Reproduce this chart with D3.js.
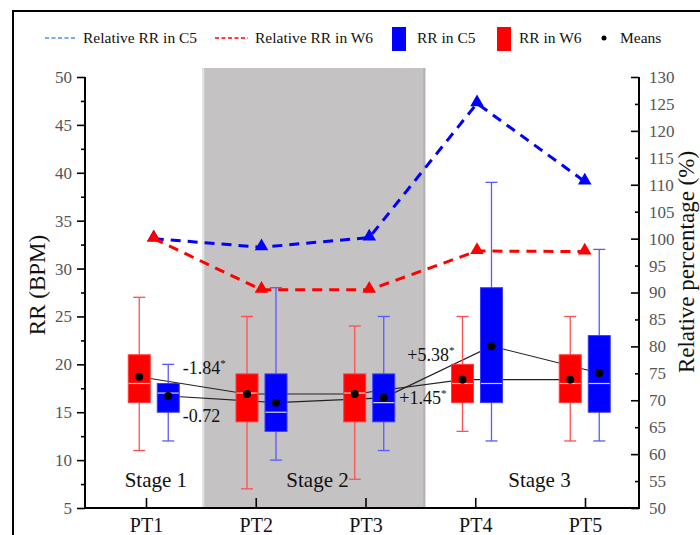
<!DOCTYPE html>
<html><head><meta charset="utf-8">
<script src="https://cdn.jsdelivr.net/npm/d3@7"></script>
<style>body{margin:0;background:#fff}svg{display:block}</style>
</head><body>
<svg id="chart" width="700" height="535"></svg>
<script>
// ---- data ----
const categories = ["PT1", "PT2", "PT3", "PT4", "PT5"];
const w6Min    = [11, 7, 8, 13, 12];
const w6Q1     = [16, 14, 14, 16, 16];
const w6Median = [18, 17, 17, 18, 18];
const w6Q3     = [21, 19, 19, 20, 21];
const w6Max    = [27, 25, 24, 25, 25];
const w6Mean   = [18.7, 16.9, 16.9, 18.4, 18.4];
const c5Min    = [12, 10, 11, 12, 12];
const c5Q1     = [15, 13, 14, 16, 15];
const c5Median = [17, 15, 16, 18, 18];
const c5Q3     = [18, 19, 19, 28, 23];
const c5Max    = [20, 28, 25, 39, 32];
const c5Mean   = [16.7, 16.0, 16.5, 21.9, 19.1];
const relC5    = [100, 98.4, 100.2, 125.1, 110.6];
const relW6    = [100, 90.5, 90.5, 97.7, 97.6];
const leftTicks  = [5, 10, 15, 20, 25, 30, 35, 40, 45, 50];
const leftMinor  = [7.5, 12.5, 17.5, 22.5, 27.5, 32.5, 37.5, 42.5, 47.5];
const rightTicks = [50, 55, 60, 65, 70, 75, 80, 85, 90, 95, 100, 105, 110, 115, 120, 125, 130];
const stages = ["Stage 1", "Stage 2", "Stage 3"];
const annotations = ["-1.84", "-0.72", "+1.45", "+5.38"];
const annotationStar = [true, false, true, true];

const FONT = "'Liberation Serif','Times New Roman',serif";
const svg = d3.select("#chart");

const yL = d3.scaleLinear().domain([5, 50]).range([508, 77]);
const yR = d3.scaleLinear().domain([50, 130]).range([508, 77]);
const xData = d3.scaleLinear().domain([0, 4]).range([153.75, 584.75]);
const xTick = d3.scalePoint().domain(categories).range([146, 585]);
const X0 = 85, X1 = 639;

// figure frame
svg.append("path").attr("d", "M13,545 V11 H710").attr("fill", "none")
  .attr("stroke", "#000").attr("stroke-width", 2);

// grey stage band
const gx0 = xData(0.45), gx1 = xData(2.52);
svg.append("rect").attr("x", gx0).attr("y", 68).attr("width", gx1 - gx0).attr("height", 508 - 68)
  .attr("fill", "#c4c2c3");
svg.append("rect").attr("x", gx0).attr("y", 68).attr("width", 2).attr("height", 440).attr("fill", "#e6e6e6");
svg.append("rect").attr("x", gx1 - 2).attr("y", 68).attr("width", 2).attr("height", 440).attr("fill", "#b4b2b3");

// stage labels
const stagePos = [0.02, 1.52, 3.58];
svg.selectAll("text.stage").data(stages).join("text").attr("class", "stage")
  .attr("x", (d, i) => xData(stagePos[i])).attr("y", 487)
  .attr("text-anchor", "middle").attr("font-family", FONT).attr("font-size", 21).attr("fill", "#111")
  .text(d => d);

// mean connecting lines
const lineGen = d3.line().x(d => d[0]).y(d => d[1]);
const w6Pts = w6Mean.map((v, i) => [xData(i) - 14.5, yL(v)]);
const c5Pts = c5Mean.map((v, i) => [xData(i) + 14.5, yL(v)]);
[w6Pts, c5Pts].forEach(pts => {
  svg.append("path").attr("d", lineGen(pts)).attr("fill", "none")
    .attr("stroke", "#222").attr("stroke-width", 1.1);
});

// boxes
const series = [
  {fill: "#ff0000", stroke: "#ff3b3b", whisk: "#ff5050", off: -14.5, min: w6Min, q1: w6Q1, med: w6Median, q3: w6Q3, max: w6Max},
  {fill: "#0000ff", stroke: "#3b3bff", whisk: "#5a5aff", off: 14.5, min: c5Min, q1: c5Q1, med: c5Median, q3: c5Q3, max: c5Max}
];
const BW = 22, CAP = 12;
series.forEach(s => {
  const g = svg.append("g");
  categories.forEach((c, i) => {
    const cx = xData(i) + s.off;
    g.append("line").attr("x1", cx).attr("x2", cx).attr("y1", yL(s.min[i])).attr("y2", yL(s.max[i]))
      .attr("stroke", s.whisk).attr("stroke-width", 1.3);
    [s.min[i], s.max[i]].forEach(v => {
      g.append("line").attr("x1", cx - CAP / 2).attr("x2", cx + CAP / 2).attr("y1", yL(v)).attr("y2", yL(v))
        .attr("stroke", s.whisk).attr("stroke-width", 1.3);
    });
    g.append("rect").attr("x", cx - BW / 2).attr("y", yL(s.q3[i])).attr("width", BW)
      .attr("height", yL(s.q1[i]) - yL(s.q3[i])).attr("fill", s.fill).attr("stroke", s.stroke).attr("stroke-width", 1);
    g.append("line").attr("x1", cx - BW / 2 + 0.5).attr("x2", cx + BW / 2 - 0.5)
      .attr("y1", yL(s.med[i])).attr("y2", yL(s.med[i])).attr("stroke", "#fff").attr("stroke-width", 1.2)
      .attr("opacity", 0.85);
  });
});

// mean dots
[...w6Pts, ...c5Pts].forEach(p => {
  svg.append("circle").attr("cx", p[0]).attr("cy", p[1]).attr("r", 4).attr("fill", "#000");
});

// relative percentage dashed lines
const relSeries = [
  {vals: relC5, color: "#0000ff"},
  {vals: relW6, color: "#ff0000"}
];
const tri = d3.symbol().type(d3.symbolTriangle).size(80);
relSeries.forEach(r => {
  const pts = r.vals.map((v, i) => [xData(i), yR(v)]);
  svg.append("path").attr("d", lineGen(pts)).attr("fill", "none").attr("stroke", r.color)
    .attr("stroke-width", 3).attr("stroke-dasharray", "10,7");
  pts.forEach(p => {
    svg.append("path").attr("d", tri()).attr("transform", `translate(${p[0]},${p[1] - 1})`).attr("fill", r.color);
  });
});

// annotations
const annPos = [[0, 29, 19.0], [0, 29, 14.0], [2, 30, 15.9], [2, 38, 20.3]];
annotations.forEach((a, i) => {
  const t = svg.append("text").attr("x", xData(annPos[i][0]) + annPos[i][1]).attr("y", yL(annPos[i][2]))
    .attr("font-family", FONT).attr("font-size", 18).attr("fill", "#111");
  t.append("tspan").text(a);
  if (annotationStar[i]) t.append("tspan").attr("dy", -7).attr("font-size", 11).text("*");
});

// axes
const axisColor = "#000";
const gl = svg.append("g").attr("transform", `translate(${X0},0)`)
  .call(d3.axisLeft(yL).tickValues(leftTicks).tickSizeInner(8).tickSizeOuter(0).tickPadding(5));
gl.select(".domain").remove();
const glm = svg.append("g").attr("transform", `translate(${X0},0)`)
  .call(d3.axisLeft(yL).tickValues(leftMinor).tickSize(4).tickFormat(""));
glm.select(".domain").remove();

const gr = svg.append("g").attr("transform", `translate(${X1},0)`)
  .call(d3.axisRight(yR).tickValues(rightTicks).tickSizeInner(-8).tickSizeOuter(0).tickPadding(10));
gr.select(".domain").remove();
gr.selectAll(".tick").filter(d => d % 10 !== 0).select("line").attr("x2", -4);

const gb = svg.append("g").attr("transform", `translate(0,508)`)
  .call(d3.axisBottom(xTick).tickSizeInner(-10).tickSizeOuter(0).tickPadding(10));
gb.select(".domain").remove();

[gl, glm, gr, gb].forEach(g => g.selectAll(".tick line").attr("stroke", axisColor).attr("stroke-width", 1.6));
[gl, gr].forEach(g => g.selectAll(".tick text").attr("font-family", FONT).attr("font-size", 17).attr("fill", "#555"));
gb.selectAll(".tick text").attr("font-family", FONT).attr("font-size", 20).attr("fill", "#111");

svg.append("path").attr("d", `M${X0},77 V508 H${X1} V77`).attr("fill", "none")
  .attr("stroke", "#000").attr("stroke-width", 2);

// axis titles
svg.append("text").attr("transform", "translate(45,285) rotate(-90)").attr("text-anchor", "middle")
  .attr("font-family", FONT).attr("font-size", 23).attr("fill", "#111").text("RR (BPM)");
svg.append("text").attr("transform", "translate(694,262) rotate(-90)").attr("text-anchor", "middle")
  .attr("font-family", FONT).attr("font-size", 23).attr("fill", "#111").text("Relative percentage (%)");

// legend
const lg = svg.append("g").attr("font-family", FONT).attr("font-size", 15.5).attr("fill", "#111");
lg.append("line").attr("x1", 45).attr("x2", 77).attr("y1", 38).attr("y2", 38)
  .attr("stroke", "#4a90e2").attr("stroke-width", 1.5).attr("stroke-dasharray", "4,2.5");
lg.append("text").attr("x", 83).attr("y", 43).text("Relative RR in C5");
lg.append("line").attr("x1", 215).attr("x2", 248).attr("y1", 38).attr("y2", 38)
  .attr("stroke", "#ff0000").attr("stroke-width", 1.5).attr("stroke-dasharray", "4,2.5");
lg.append("text").attr("x", 255).attr("y", 43).text("Relative RR in W6");
lg.append("rect").attr("x", 392).attr("y", 27).attr("width", 14).attr("height", 24).attr("fill", "#0000ff");
lg.append("text").attr("x", 417).attr("y", 43).text("RR in C5");
lg.append("rect").attr("x", 497).attr("y", 27).attr("width", 14).attr("height", 24).attr("fill", "#ff0000");
lg.append("text").attr("x", 519).attr("y", 43).text("RR in W6");
lg.append("circle").attr("cx", 604).attr("cy", 38).attr("r", 2.5).attr("fill", "#000");
lg.append("text").attr("x", 620).attr("y", 43).text("Means");
</script>
</body></html>
